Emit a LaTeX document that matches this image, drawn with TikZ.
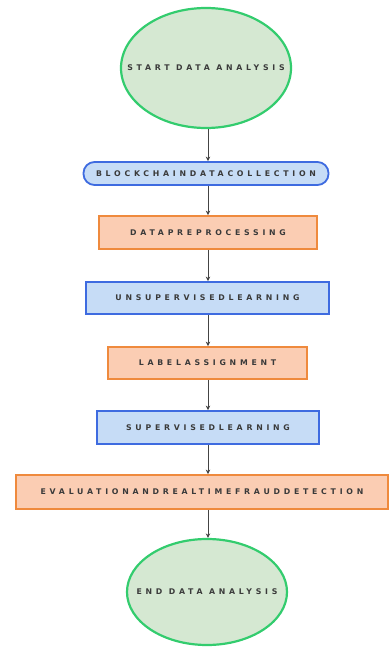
\documentclass[tikz,border=0pt]{standalone}
\usepackage{fontspec}
\usetikzlibrary{arrows.meta,shapes.geometric}
\newfontfamily\lblfont[LetterSpace=48]{DejaVu Sans}
\definecolor{gfill}{HTML}{D5E8D2}
\definecolor{gline}{HTML}{33CC6E}
\definecolor{bfill}{HTML}{C6DCF6}
\definecolor{bline}{HTML}{3E6BE0}
\definecolor{ofill}{HTML}{FBCDB3}
\definecolor{oline}{HTML}{EF8A3D}
\definecolor{txt}{HTML}{3A3A3A}
\definecolor{edgec}{HTML}{444444}
\begin{document}
\begin{tikzpicture}[x=1pt,y=-1pt,
  every node/.style={font=\lblfont\bfseries\fontsize{7.8}{8.5}\selectfont, text=txt, inner sep=0pt},
  term/.style={ellipse, draw=gline, fill=gfill, line width=2.2pt},
  bluebox/.style={rectangle, draw=bline, fill=bfill, line width=1.8pt},
  orangebox/.style={rectangle, draw=oline, fill=ofill, line width=1.8pt},
  flow/.style={draw=edgec, line width=0.7pt, -{Stealth[length=4.5pt,width=4.5pt]}}
]
\useasboundingbox (0,0) rectangle (390,648);
\node[term, minimum width=170, minimum height=120] (start) at (206,68) {};
\node (startlbl) at (start.center) {START DATA ANALYSIS};
\node[bluebox, rounded corners=11pt, minimum width=245, minimum height=23] (b1) at (206,173.5) {BLOCKCHAINDATACOLLECTION};
\node[orangebox, minimum width=218, minimum height=33] (b2) at (208,232.5) {DATAPREPROCESSING};
\node[bluebox, minimum width=243, minimum height=32] (b3) at (207.5,298) {UNSUPERVISEDLEARNING};
\node[orangebox, minimum width=199, minimum height=32] (b4) at (207.5,363) {LABELASSIGNMENT};
\node[bluebox, minimum width=222, minimum height=33] (b5) at (208,427.5) {SUPERVISEDLEARNING};
\node[orangebox, minimum width=372, minimum height=34] (b6) at (202,492) {EVALUATIONANDREALTIMEFRAUDDETECTION};
\node[term, minimum width=160, minimum height=106] (end) at (207,592) {};
\node (endlbl) at (end.center) {END DATA ANALYSIS};
\draw[flow] (start.south -| 208,0) -- (b1.north -| 208,0);
\draw[flow] (b1.south -| 208,0) -- (b2.north -| 208,0);
\draw[flow] (b2.south -| 208,0) -- (b3.north -| 208,0);
\draw[flow] (b3.south -| 208,0) -- (b4.north -| 208,0);
\draw[flow] (b4.south -| 208,0) -- (b5.north -| 208,0);
\draw[flow] (b5.south -| 208,0) -- (b6.north -| 208,0);
\draw[flow] (b6.south -| 208,0) -- (end.north -| 208,0);
\end{tikzpicture}
\end{document}
